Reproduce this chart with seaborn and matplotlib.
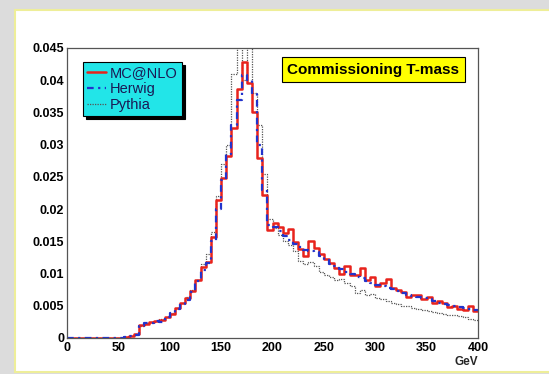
import numpy as np
import pandas as pd
import matplotlib
matplotlib.use("Agg")
import matplotlib.pyplot as plt
from matplotlib.lines import Line2D
from matplotlib.patches import Rectangle
import seaborn as sns

# ---- data (5 GeV bins from 0 to 400) ----
mcatnlo = [0, 0, 0, 0, 0, 0, 0, 0, 0, 0,
           0, 0.0001, 0.0003, 0.0006, 0.0020, 0.0022, 0.0025, 0.0026, 0.0028, 0.0033,
           0.0038, 0.0046, 0.0054, 0.0062, 0.0073, 0.0090, 0.0110, 0.0118, 0.0157, 0.0214,
           0.0248, 0.0282, 0.0326, 0.0386, 0.0429, 0.0395, 0.0350, 0.0280, 0.0222, 0.0168,
           0.0178, 0.0172, 0.0163, 0.0169, 0.0149, 0.0138, 0.0127, 0.0150, 0.0139, 0.0130,
           0.0122, 0.0117, 0.0108, 0.0100, 0.0111, 0.0098, 0.0097, 0.0108, 0.0090, 0.0095,
           0.0080, 0.0085, 0.0092, 0.0077, 0.0074, 0.0071, 0.0064, 0.0066, 0.0066, 0.0060,
           0.0064, 0.0054, 0.0057, 0.0055, 0.0048, 0.0049, 0.0045, 0.0043, 0.0050, 0.0042]
herwig = [0, 0, 0, 0, 0, 0, 0, 0, 0, 0,
          0, 0.0001, 0.0003, 0.0005, 0.0018, 0.0023, 0.0024, 0.0027, 0.0025, 0.0032,
          0.0039, 0.0045, 0.0052, 0.0059, 0.0071, 0.0088, 0.0106, 0.0116, 0.0150, 0.0200,
          0.0245, 0.0285, 0.0330, 0.0370, 0.0408, 0.0400, 0.0378, 0.0300, 0.0230, 0.0175,
          0.0172, 0.0166, 0.0158, 0.0152, 0.0146, 0.0141, 0.0136, 0.0135, 0.0133, 0.0127,
          0.0121, 0.0115, 0.0112, 0.0107, 0.0103, 0.0099, 0.0095, 0.0093, 0.0089, 0.0086,
          0.0083, 0.0080, 0.0077, 0.0076, 0.0073, 0.0070, 0.0067, 0.0065, 0.0063, 0.0062,
          0.0060, 0.0057, 0.0055, 0.0053, 0.0051, 0.0050, 0.0048, 0.0047, 0.0045, 0.0044]
pythia = [0, 0, 0, 0, 0, 0, 0, 0, 0, 0,
          0, 0.0001, 0.0003, 0.0006, 0.0019, 0.0023, 0.0025, 0.0026, 0.0029, 0.0032,
          0.0039, 0.0046, 0.0055, 0.0064, 0.0075, 0.0090, 0.0115, 0.0130, 0.0165, 0.0220,
          0.0270, 0.0300, 0.0410, 0.0455, 0.0400, 0.0460, 0.0380, 0.0330, 0.0255, 0.0185,
          0.0170, 0.0160, 0.0150, 0.0145, 0.0135, 0.0120, 0.0115, 0.0118, 0.0112, 0.0103,
          0.0098, 0.0095, 0.0090, 0.0092, 0.0085, 0.0080, 0.0070, 0.0075, 0.0066, 0.0068,
          0.0062, 0.0060, 0.0058, 0.0055, 0.0052, 0.0050, 0.0049, 0.0046, 0.0045, 0.0043,
          0.0042, 0.0040, 0.0039, 0.0038, 0.0036, 0.0035, 0.0034, 0.0032, 0.0030, 0.0028]
series_names = ["MC@NLO", "Herwig", "Pythia"]
bin_width = 5
title_text = "Commissioning T-mass"
x_unit = "GeV"

# ---- figure ----
sns.set_style("white")
plt.rcParams["font.family"] = ["Liberation Sans", "DejaVu Sans"]

fig = plt.figure(figsize=(5.49, 3.74), dpi=100)
fig.patch.set_facecolor("#dcdcdc")
# white panel with pale-yellow border
fig.patches.append(Rectangle((15 / 549, 2 / 374), 560 / 549, 362 / 374,
                             transform=fig.transFigure, facecolor="white",
                             edgecolor="#eeee99", linewidth=1.5, zorder=-5))

ax = fig.add_axes([67 / 549, 1 - 338 / 374, 411 / 549, 290 / 374])
ax.set_facecolor("white")

n = len(mcatnlo)
centers = (np.arange(n) + 0.5) * bin_width
df = pd.DataFrame({"x": centers, "MC@NLO": mcatnlo, "Herwig": herwig, "Pythia": pythia})

styles = {
    "Pythia": dict(color="#555555", linewidth=0.9, linestyle=(0, (1, 1))),
    "Herwig": dict(color="#2233cc", linewidth=1.6, linestyle=(0, (3, 2, 1, 2))),
    "MC@NLO": dict(color="#e8231c", linewidth=1.8, linestyle="-"),
}
for name in ["Pythia", "MC@NLO", "Herwig"]:
    sns.histplot(x=df["x"], weights=df[name].to_numpy(), binwidth=bin_width,
                 binrange=(0, n * bin_width), element="step", fill=False, ax=ax,
                 **styles[name])

ax.set_xlim(0, 400)
ax.set_ylim(0, 0.045)
ax.set_xlabel("")
ax.set_ylabel("")
yt = np.arange(0, 0.0451, 0.005)
ax.set_xticks(np.arange(0, 401, 50))
ax.set_yticks(yt)
ax.set_yticklabels(["0" if v < 1e-9 else f"{v:g}" for v in yt])
ax.set_xticks(np.arange(0, 401, 10), minor=True)
ax.set_yticks(np.arange(0, 0.0451, 0.001), minor=True)
ax.tick_params(axis="both", which="major", direction="in", length=9, width=0.8,
               labelsize=9, colors="#333333", labelcolor="black")
ax.tick_params(axis="both", which="minor", direction="in", length=4.5, width=0.6,
               colors="#333333")
ax.tick_params(axis="x", pad=3)
ax.tick_params(axis="y", pad=2)
for lab in ax.get_xticklabels() + ax.get_yticklabels():
    lab.set_fontweight("bold")
for sp in ax.spines.values():
    sp.set_color("#555555")
    sp.set_linewidth(0.9)

ax.text(1.0, -0.083, x_unit, transform=ax.transAxes, ha="right", va="center",
        fontsize=8.5, fontweight="bold")

# legend
handles = [Line2D([], [], **styles[s]) for s in series_names]
leg = ax.legend(handles, series_names, loc="upper left", bbox_to_anchor=(0.039, 0.952),
                frameon=True, fancybox=False, shadow={"color": "black", "alpha": 1.0},
                fontsize=10.5, handlelength=1.25, handletextpad=0.3, labelspacing=0.12,
                borderpad=0.3, borderaxespad=0)
leg.get_frame().set_facecolor("#22e5e8")
leg.get_frame().set_edgecolor("black")
leg.get_frame().set_alpha(1)
leg.get_frame().set_linewidth(0.8)
for t in leg.get_texts():
    t.set_color("#1a1a55")

# title box
ax.text(0.745, 0.925, title_text, transform=ax.transAxes, ha="center", va="center",
        fontsize=11, fontweight="bold", color="black",
        bbox=dict(boxstyle="square,pad=0.35", facecolor="#ffff00", edgecolor="black",
                  linewidth=0.8))

fig.savefig("out.png", dpi=100, facecolor=fig.get_facecolor())
